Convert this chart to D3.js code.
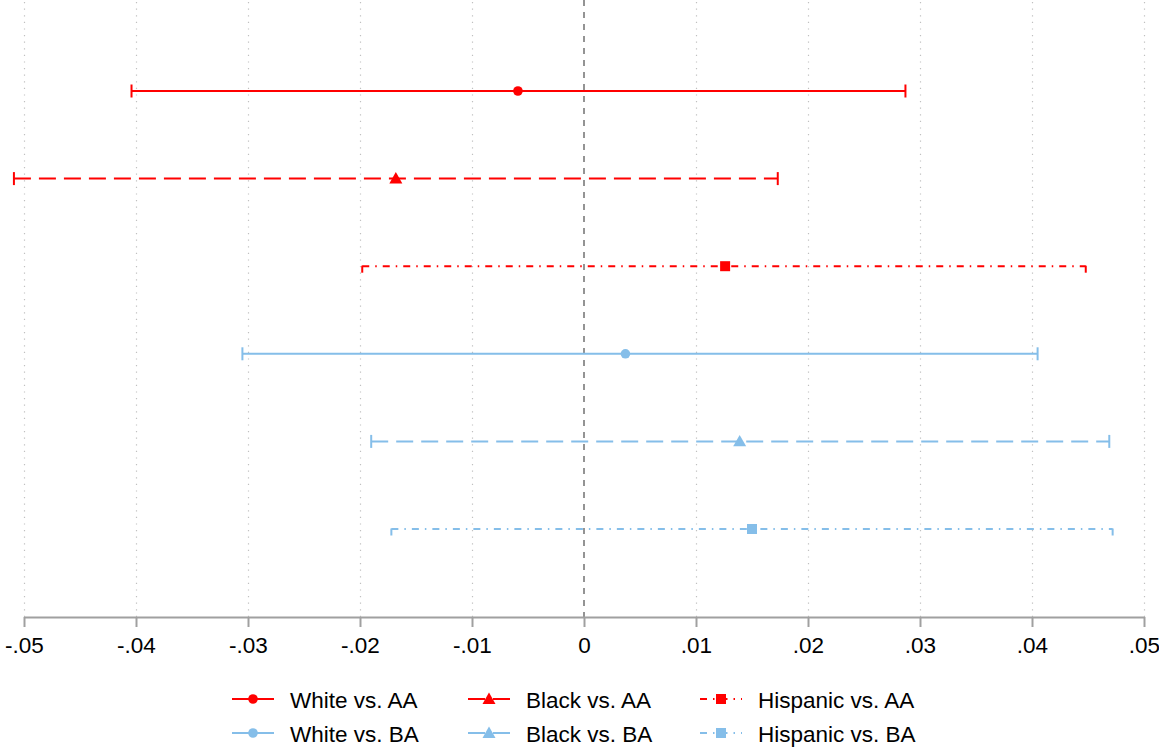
<!DOCTYPE html>
<html>
<head>
<meta charset="utf-8">
<script src="https://cdn.jsdelivr.net/npm/d3@7"></script>
<style>
  html, body { margin: 0; padding: 0; background: #fff; }
  svg { display: block; font-family: "Liberation Sans", Arial, Helvetica, sans-serif; }
</style>
</head>
<body>
<svg id="chart" width="1159" height="751"></svg>
<script>
// ---- data ----
const labels = ["White vs. AA", "Black vs. AA", "Hispanic vs. AA", "White vs. BA", "Black vs. BA", "Hispanic vs. BA"];
const estimates = [-0.0059, -0.0168, 0.0126, 0.0037, 0.0139, 0.0150];
const lower = [-0.0404, -0.0509, -0.0198, -0.0305, -0.0190, -0.0172];
const upper = [0.0287, 0.0173, 0.0448, 0.0405, 0.0469, 0.0472];
const groups = ["AA", "AA", "AA", "BA", "BA", "BA"];
const shapes = ["circle", "triangle", "square", "circle", "triangle", "square"];
const patterns = ["solid", "dash", "dashdot", "solid", "dash", "dashdot"];
const xTicks = [-0.05, -0.04, -0.03, -0.02, -0.01, 0, 0.01, 0.02, 0.03, 0.04, 0.05];
const legendOrder = [0, 1, 2, 3, 4, 5];

// ---- styles ----
const colorMap = { AA: "#ff0000", BA: "#85bee9" };
const dashMap = { solid: null, dash: "17,8", dashdot: "7,6,1.5,6" };
const fontSize = 22.5;

const svg = d3.select("#chart");
const x = d3.scaleLinear().domain([-0.05, 0.05]).range([24, 1144]);
const y = d3.scalePoint().domain(d3.range(labels.length)).range([91, 529]);
const axisY = 617;

// grid lines (dotted)
svg.append("g").selectAll("line").data(xTicks.filter(t => t !== 0)).join("line")
  .attr("x1", d => Math.round(x(d)) + 0.5).attr("x2", d => Math.round(x(d)) + 0.5)
  .attr("y1", 2).attr("y2", axisY)
  .attr("stroke", "#c0c0c0").attr("stroke-width", 1.2)
  .attr("stroke-dasharray", "1.2,5.4");

// zero line
svg.append("line")
  .attr("x1", x(0)).attr("x2", x(0)).attr("y1", 0).attr("y2", axisY)
  .attr("stroke", "#7a7a7a").attr("stroke-width", 1.6)
  .attr("stroke-dasharray", "6,6");

// x axis
const fmt = d => d === 0 ? "0" : (d < 0 ? "-" : "") + d3.format(".2f")(Math.abs(d)).replace(/^0/, "");
const axis = d3.axisBottom(x).tickValues(xTicks).tickFormat(fmt).tickSize(10).tickPadding(10).tickSizeOuter(0);
const gAxis = svg.append("g").attr("transform", `translate(0,${axisY})`).call(axis);
gAxis.select(".domain").attr("stroke", "#a0a0a0").attr("stroke-width", 2);
gAxis.selectAll(".tick line").attr("stroke", "#a0a0a0").attr("stroke-width", 2);
gAxis.selectAll(".tick text").attr("font-size", fontSize).attr("fill", "#000")
  .attr("font-family", "Liberation Sans, Arial, sans-serif");

// marker drawing
function drawMarker(g, shape, cx, cy, color) {
  if (shape === "circle") {
    g.append("circle").attr("cx", cx).attr("cy", cy).attr("r", 4.8).attr("fill", color);
  } else if (shape === "triangle") {
    const s = 6.5;
    g.append("path").attr("d", `M${cx},${cy - s} L${cx + s},${cy + s * 0.75} L${cx - s},${cy + s * 0.75} Z`).attr("fill", color);
  } else {
    g.append("rect").attr("x", cx - 5).attr("y", cy - 5).attr("width", 10).attr("height", 10).attr("fill", color);
  }
}

// CI rows
const rows = svg.append("g");
labels.forEach((lab, i) => {
  const g = rows.append("g");
  const c = colorMap[groups[i]];
  const dash = dashMap[patterns[i]];
  const yy = y(i);
  g.append("line").attr("x1", x(lower[i])).attr("x2", x(upper[i])).attr("y1", yy).attr("y2", yy)
    .attr("stroke", c).attr("stroke-width", 2).attr("stroke-dasharray", dash);
  [lower[i], upper[i]].forEach(v => {
    g.append("path").attr("d", `M${x(v)},${yy + 6.5} L${x(v)},${yy - 6.5}`)
      .attr("stroke", c).attr("stroke-width", 2).attr("fill", "none").attr("stroke-dasharray", dash);
  });
  drawMarker(g, shapes[i], x(estimates[i]), yy, c);
});

// legend
const legX = [232, 468, 700];
const legY = [699, 733];
const leg = svg.append("g");
legendOrder.forEach((i, k) => {
  const col = k % 3, row = Math.floor(k / 3);
  const c = colorMap[groups[i]];
  const lx = legX[col], ly = legY[row];
  const g = leg.append("g");
  g.append("line").attr("x1", lx).attr("x2", lx + 42).attr("y1", ly).attr("y2", ly)
    .attr("stroke", c).attr("stroke-width", 2).attr("stroke-dasharray", dashMap[patterns[i]]);
  drawMarker(g, shapes[i], lx + 21, ly, c);
  g.append("text").attr("x", lx + 58).attr("y", ly + 9).attr("font-size", fontSize).attr("fill", "#000")
    .text(labels[i]);
});
</script>
</body>
</html>
